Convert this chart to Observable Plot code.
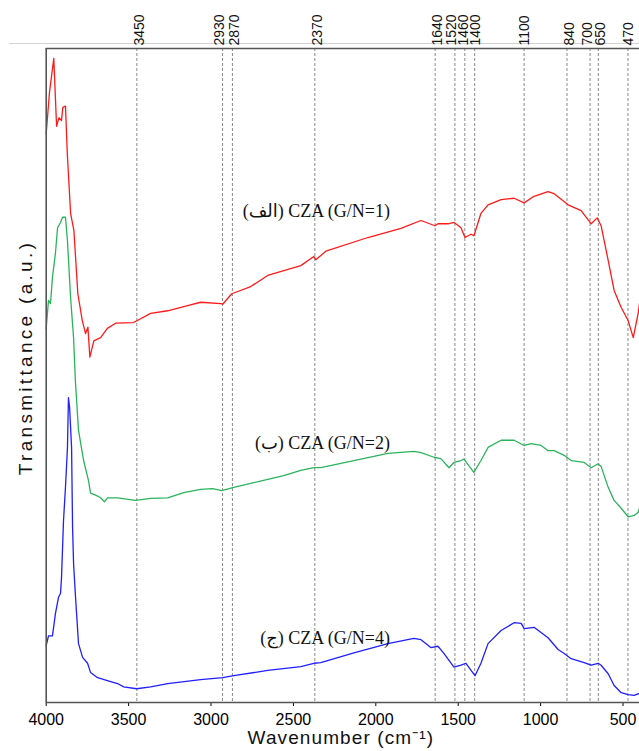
<!DOCTYPE html>
<html><head><meta charset="utf-8">
<script src="https://cdn.jsdelivr.net/npm/d3@7"></script>
<script src="https://cdn.jsdelivr.net/npm/@observablehq/plot@0.6"></script>
<style>
body{margin:0;background:#fff;}
#wrap{position:relative;width:639px;height:751px;overflow:hidden;}
#topline{position:absolute;left:9px;right:0;top:43px;height:0;border-top:1.5px solid #d2d2d2;z-index:0;}
#wrap svg{position:absolute;left:0;top:0;z-index:1;}
</style></head><body><div id="wrap"><div id="topline"></div></div>
<script>
const peakWavenumbers = [3450, 2930, 2870, 2370, 1640, 1520, 1460, 1400, 1100, 840, 700, 650, 470];
const peakLabelsLeft = [2930, 1520, 700];
const peakLabelsSlightLeft = [1460];
const peakLabelsCentered = [1100, 1400, 470];
const xTicks = [4000, 3500, 3000, 2500, 2000, 1500, 1000, 500];
const seriesNames = ["G/N=1", "G/N=2", "G/N=4"];
const seriesColors = ["#ff1a1a", "#2bb35c", "#1f1fff"];

const redW = [4000,3980,3954,3937,3923,3907,3899,3883,3872,3852,3832,3808,3781,3761,3747,3735,3711,3670,3629,3579,3470,3366,3263,3142,3063,2941,2929,2874,2759,2656,2455,2376,2364,2303,2048,1848,1726,1641,1623,1562,1525,1483,1459,1422,1404,1362,1319,1240,1161,1100,1040,955,918,833,754,693,657,633,590,554,511,469,438,408,400];
const redT = [87.0,93.3,98.5,88.1,89.4,89.0,91.0,91.2,83.9,74.8,72.2,62.5,58.4,56.4,57.4,52.8,55.3,55.8,57.2,58.0,58.1,59.5,59.9,60.7,61.2,61.0,60.9,62.5,63.6,65.3,66.8,68.2,67.7,69.0,71.1,72.5,73.7,72.9,73.2,73.2,73.4,72.6,71.1,71.6,71.4,74.8,76.1,76.9,77.1,76.4,77.4,78.1,77.8,76.1,75.2,73.2,74.1,72.9,67.6,63.0,60.4,58.4,55.8,59.5,61.0];

const greenW = [4000,3986,3974,3962,3944,3931,3913,3901,3883,3871,3852,3834,3823,3804,3773,3743,3731,3700,3670,3646,3628,3567,3458,3366,3263,3166,3063,2990,2935,2862,2759,2656,2559,2455,2376,2334,2133,1927,1769,1726,1647,1605,1556,1526,1483,1465,1405,1362,1319,1240,1161,1100,1057,997,955,918,857,815,736,693,651,633,590,554,511,469,432,408,400];
const greenT = [57.2,61.5,61.0,65.0,68.7,72.6,73.4,74.2,74.2,70.6,61.9,55.8,49.2,41.6,37.0,33.9,32.0,31.7,31.3,30.7,31.3,31.3,30.9,31.2,31.3,32.1,32.6,32.7,32.4,32.9,33.5,34.1,34.7,35.5,35.9,35.9,37.0,38.1,38.4,38.2,37.5,37.3,35.9,36.7,37.0,37.2,35.2,37.0,39.0,40.1,40.1,39.3,39.6,39.3,38.5,38.5,37.8,37.0,36.7,35.9,36.5,36.1,32.9,30.9,29.7,28.4,28.6,29.1,29.7];

const blueW = [4000,3986,3962,3944,3925,3913,3907,3895,3883,3871,3865,3858,3846,3840,3834,3822,3804,3779,3749,3731,3688,3609,3567,3530,3451,3366,3263,3063,2929,2862,2656,2455,2376,2334,2133,1927,1769,1726,1666,1623,1587,1526,1483,1453,1422,1398,1362,1319,1240,1161,1118,1100,1040,955,894,857,815,736,693,651,633,590,554,511,469,432,400];
const blueT = [8.7,10.2,10.2,13.6,16.1,16.7,19.1,27.8,32.9,39.0,46.6,45.1,39.0,26.8,21.3,16.1,9.0,6.9,6.0,4.6,3.8,3.2,2.9,2.4,2.1,2.4,2.9,3.5,3.8,4.1,4.9,5.5,6.0,6.1,7.6,9.0,9.8,9.6,8.4,8.6,7.5,5.4,5.7,6.0,4.9,4.1,6.0,9.0,11.0,12.2,12.1,11.3,11.5,9.9,8.1,7.5,6.7,6.1,5.7,6.0,5.7,4.4,2.6,1.5,1.2,1.1,1.4];

const labelTexts = ["(الف) CZA (G/N=1)", "(ب) CZA (G/N=2)", "(ج) CZA (G/N=4)"];
const labelW = [1914, 1914, 1914];
const labelT = [75.1, 39.6, 9.9];

const xTitle = "Wavenumber (cm⁻¹)";
const yTitle = "Transmittance (a.u.)";

const spectra = [];
[[redW, redT], [greenW, greenT], [blueW, blueT]].forEach(([W, T], i) => {
  W.forEach((w, j) => spectra.push({series: seriesNames[i], w, t: T[j]}));
});
const labels = labelTexts.map((text, i) => ({text, w: labelW[i], t: labelT[i]}));
const special = [...peakLabelsLeft, ...peakLabelsSlightLeft, ...peakLabelsCentered];
const peaksRight = peakWavenumbers.filter(d => !special.includes(d));

const peakTextOpts = {x: d => d, text: d => String(d), frameAnchor: "top", rotate: -90, textAnchor: "start", lineAnchor: "middle", dy: -3, fontSize: 14, fill: "#111"};

const chart = Plot.plot({
  width: 639,
  height: 751,
  marginLeft: 45.7,
  marginRight: 0,
  marginTop: 48,
  marginBottom: 49,
  style: {background: "transparent", fontFamily: "'Liberation Sans', Arial, sans-serif", overflow: "visible"},
  x: {domain: [4000, 400], ticks: xTicks, tickSize: 4, tickPadding: 7, tickFormat: d => String(d), label: null},
  y: {domain: [0, 100], axis: null},
  color: {domain: seriesNames, range: seriesColors},
  marks: [
    Plot.ruleX(peakWavenumbers, {x: d => d, stroke: "#8a8a8a", strokeWidth: 1, strokeDasharray: "3,2"}),
    Plot.text(peaksRight, {...peakTextOpts, dx: 2.5}),
    Plot.text(peakLabelsLeft, {...peakTextOpts, dx: -3}),
    Plot.text(peakLabelsSlightLeft, {...peakTextOpts, dx: -1}),
    Plot.text(peakLabelsCentered, {...peakTextOpts, dx: 0.5}),
    Plot.line(spectra, {x: "w", y: "t", z: "series", stroke: "series", strokeWidth: 1.3}),
    Plot.ruleX([4000], {stroke: "#555", strokeWidth: 1.6}),
    Plot.ruleY([0, 100], {stroke: "#555", strokeWidth: 1.6}),
    Plot.text(labels, {x: "w", y: "t", text: "text", textAnchor: "end", fontFamily: "'Liberation Serif', 'Times New Roman', 'DejaVu Sans', serif", fontSize: 18, fill: "#111"}),
    Plot.text([xTitle], {text: d => d, frameAnchor: "bottom", textAnchor: "middle", dy: 41, dx: -2, fontSize: 19, fill: "#111"}),
    Plot.text([yTitle], {text: d => d, frameAnchor: "left", textAnchor: "middle", rotate: -90, dx: -20, dy: -18, fontSize: 19, fill: "#111"})
  ]
});
const svg = d3.select(chart.tagName.toLowerCase() === "svg" ? chart : chart.querySelector("svg"));
svg.selectAll('g[aria-label="x-axis tick label"] text, g[aria-label="x-axis tick label"]').style("font-size", "16px");
svg.selectAll("text").filter(function() { return this.textContent === xTitle; }).style("letter-spacing", "1.1px");
svg.selectAll("text").filter(function() { return this.textContent === yTitle; }).style("letter-spacing", "3.3px");
document.getElementById("wrap").appendChild(chart);
</script>
</body></html>
